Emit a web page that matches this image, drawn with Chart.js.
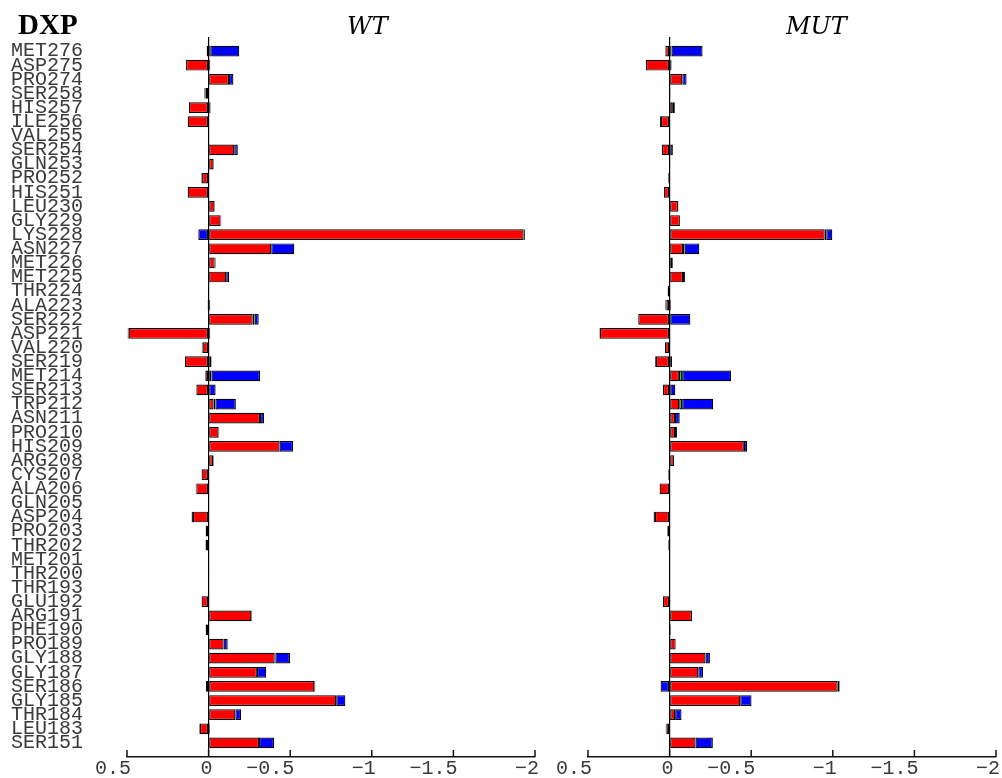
<!DOCTYPE html>
<html>
<head>
<meta charset="utf-8">
<script src="https://cdn.jsdelivr.net/npm/chart.js@4"></script>
<style>
  body { margin: 0; background: #fff; }
  #wrap { position: relative; width: 1002px; height: 778px; }
  canvas { position: absolute; left: 0; top: 0; }
  .ttl { position: absolute; line-height: 1; white-space: nowrap; color: #000; }
  #dxp { left: 18px; top: 8px; font: bold 29px "Liberation Serif", serif; }
  #wt { left: 347px; top: 12px; font: italic 24px "DejaVu Serif", serif; }
  #mut { left: 786px; top: 12px; font: italic 24px "DejaVu Serif", serif; }
</style>
</head>
<body>
<div id="wrap">
  <canvas id="wtChart" width="1002" height="778"></canvas>
  <canvas id="mutChart" width="1002" height="778"></canvas>
  <div class="ttl" id="dxp">DXP</div>
  <div class="ttl" id="wt">WT</div>
  <div class="ttl" id="mut">MUT</div>
</div>
<script>
// residues, top to bottom
const residues = ['MET276','ASP275','PRO274','SER258','HIS257','ILE256','VAL255','SER254','GLN253','PRO252',
  'HIS251','LEU230','GLY229','LYS228','ASN227','MET226','MET225','THR224','ALA223','SER222',
  'ASP221','VAL220','SER219','MET214','SER213','TRP212','ASN211','PRO210','HIS209','ARG208',
  'CYS207','ALA206','GLN205','ASP204','PRO203','THR202','MET201','THR200','THR193','GLU192',
  'ARG191','PHE190','PRO189','GLY188','GLY187','SER186','GLY185','THR184','LEU183','SER151'];

// WT energy terms
const wtRed = [0.012,0.138,-0.125,0.018,0.12,0.128,-0.004,-0.157,-0.03,0.04,
  0.128,-0.036,-0.073,-1.93,-0.384,-0.037,-0.108,-0.004,0,-0.27,
  0.49,0.037,0.145,0.02,0.075,-0.03,-0.315,-0.061,-0.435,-0.027,
  0.043,0.075,0.003,0.096,0.018,0.016,-0.004,-0.001,0.002,0.043,
  -0.262,0.018,-0.092,-0.405,-0.296,-0.648,-0.782,-0.164,0.053,-0.309];
const wtGreen = [-0.01,0,0,0.008,0,0,0,0,0,0.004,
  0,0,0,-0.008,0,0,0,0,0.006,-0.012,
  0.006,0.005,0,-0.018,0,-0.012,0,0,0,0,
  0,0.004,0,0,0,0,0,0,0,0,
  0,0,0,-0.004,0,-0.006,0,0,0.004,0];
const wtBlue = [-0.178,-0.01,-0.027,0,-0.012,0,0,-0.022,-0.003,0,
  0,-0.003,-0.005,0.063,-0.141,-0.006,-0.018,0,-0.01,-0.025,
  -0.01,0,-0.018,-0.297,-0.043,-0.125,-0.025,-0.004,-0.082,-0.004,
  0,0,0,0.008,0,0.003,0,0,0,0,
  -0.005,0,-0.025,-0.09,-0.057,0.016,-0.056,-0.035,-0.008,-0.092];

// MUT energy terms
const mutRed = [0.026,0.145,-0.078,-0.005,-0.02,0.053,0.003,0.047,-0.005,0,
  0.035,-0.051,-0.063,-0.95,-0.082,-0.016,-0.082,0,0.02,0.192,
  0.427,0.029,0.084,-0.057,0.041,-0.059,-0.033,-0.033,-0.455,-0.027,
  0,0.061,0.003,0.09,0.014,0,0.002,0.002,0.002,0.041,
  -0.137,-0.004,-0.037,-0.22,-0.176,-1.03,-0.433,-0.034,0.02,-0.159];
const mutGreen = [-0.012,0,0,0,0,0.006,0,0,0,0.008,
  0,0,0,-0.01,-0.01,0,0,0.012,0.006,0,
  0.003,0,0.005,-0.02,0,-0.018,0,0,0,0,
  0.008,0,0,0,0,0,0,0,0,0,
  0,-0.004,0,0,0,-0.012,0,0,0.004,0];
const mutBlue = [-0.19,-0.012,-0.026,-0.002,-0.012,0,0,-0.02,0,0,
  0,-0.003,0,-0.037,-0.09,-0.005,-0.012,0,-0.008,-0.127,
  0,0,-0.015,-0.3,-0.035,-0.19,-0.029,-0.012,-0.02,0,
  0,0,0,0.008,0,0.008,0,0,0,0,
  0,0,0,-0.027,-0.029,0.055,-0.069,-0.039,0,-0.106];

const xTicks = [0.5, 0, -0.5, -1, -1.5, -2];

const monoFont = { family: '"Liberation Mono", monospace', size: 20, lineHeight: 1 };

// inward tick marks on the x axis
const innerTicks = {
  id: 'innerTicks',
  afterDraw(chart) {
    const sc = chart.scales.x;
    const ctx = chart.ctx;
    const bottom = chart.chartArea.bottom;
    ctx.save();
    ctx.strokeStyle = '#111';
    ctx.lineWidth = 1.5;
    xTicks.forEach(v => {
      const px = sc.getPixelForValue(v);
      ctx.beginPath();
      ctx.moveTo(px, bottom);
      ctx.lineTo(px, bottom - 7);
      ctx.stroke();
    });
    ctx.restore();
  }
};

function pts(vals) {
  return vals.map((v, i) => ({ x: v, y: i }));
}

function makeChart(id, red, green, blue, showLabels) {
  const leftPad = showLabels ? 11 : 0;
  const leftWidth = showLabels ? 127 - 11 : 588;
  const rightPad = showLabels ? 467 : 6;
  const mk = (label, vals, color) => ({
    label: label,
    data: pts(vals),
    backgroundColor: color,
    borderColor: '#000',
    borderWidth: 1.2,
    borderSkipped: false,
    barPercentage: 0.76,
    categoryPercentage: 1
  });
  return new Chart(document.getElementById(id), {
    type: 'bar',
    data: {
      datasets: [
        mk('red', red, '#ff0000'),
        mk('green', green, '#00e000'),
        mk('blue', blue, '#0000ff')
      ]
    },
    options: {
      indexAxis: 'y',
      responsive: false,
      animation: false,
      devicePixelRatio: 1,
      layout: { padding: { top: 37, right: rightPad, bottom: 0, left: leftPad } },
      plugins: { legend: { display: false }, tooltip: { enabled: false }, title: { display: false } },
      scales: {
        x: {
          type: 'linear',
          stacked: true,
          reverse: true,
          min: -2,
          max: 0.5,
          afterBuildTicks: s => { s.ticks = xTicks.map(v => ({ value: v })); },
          afterFit: s => { s.height = 21; },
          ticks: {
            font: monoFont,
            color: '#3a3a3a',
            padding: 2,
            align: 'end',
            labelOffset: 4,
            maxRotation: 0,
            autoSkip: false,
            callback: v => v === 0 ? '0' : String(v).replace('-', '\u2212')
          },
          grid: {
            drawTicks: false,
            lineWidth: 1.2,
            color: c => (c.tick && c.tick.value === 0) ? '#000' : 'rgba(0,0,0,0)'
          },
          border: { display: true, color: '#111', width: 1.5 }
        },
        y: {
          type: 'linear',
          stacked: true,
          reverse: true,
          offset: false,
          min: -1,
          max: 50,
          afterFit: s => { s.width = leftWidth; },
          ticks: {
            display: showLabels,
            stepSize: 1,
            autoSkip: false,
            font: monoFont,
            color: '#3a3a3a',
            padding: 0,
            crossAlign: 'far',
            callback: v => residues[v] || ''
          },
          grid: { display: false, drawTicks: false, offset: false },
          border: { display: false }
        }
      }
    },
    plugins: [innerTicks]
  });
}

makeChart('wtChart', wtRed, wtGreen, wtBlue, true);
makeChart('mutChart', mutRed, mutGreen, mutBlue, false);
</script>
</body>
</html>
